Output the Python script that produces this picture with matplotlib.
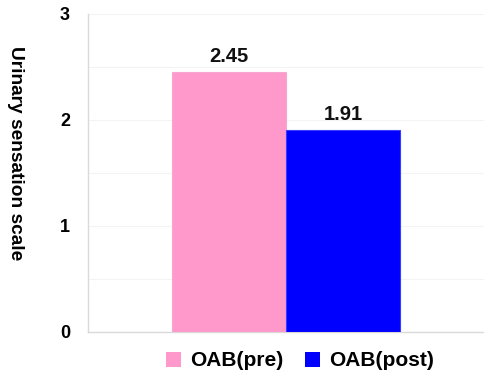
import matplotlib
matplotlib.use("Agg")
import matplotlib.pyplot as plt
from matplotlib.patches import Patch

plt.rcParams['font.family'] = ['Liberation Sans', 'DejaVu Sans']

groups = ["OAB(pre)", "OAB(post)"]
values = [2.45, 1.91]
colors = ["#FF99CC", "#0000FF"]
y_ticks = [0, 1, 2, 3]
y_label = "Urinary sensation scale"

fig = plt.figure(figsize=(4.85, 3.75), dpi=100)
ax = fig.add_axes([88 / 485, 1 - 332 / 375, 397 / 485, 318 / 375])

positions = [0, 1]
ax.bar(positions, values, width=1.0, color=colors, edgecolor=["#F7A8D0", "#3A3AFF"],
       linewidth=0.8, zorder=3)
for x, v in zip(positions, values):
    ax.text(x, v + 0.055, f"{v:.2f}", ha="center", va="bottom",
            fontsize=14.5, fontweight="bold", color="#111111", zorder=4)

ax.set_xlim(-1.23, 2.24)
ax.set_ylim(0, 3)
ax.set_yticks(y_ticks)
ax.set_yticklabels([str(t) for t in y_ticks], fontsize=13, fontweight="bold")
ax.set_yticks([0.5, 1.5, 2.5], minor=True)
ax.set_xticks([])
ax.tick_params(axis="y", which="both", length=0, pad=13)
ax.grid(axis="y", which="both", color="#F3F3F3", linewidth=0.8, zorder=0)

for side in ["top", "right"]:
    ax.spines[side].set_visible(False)
ax.spines["left"].set_color("#DADADA")
ax.spines["bottom"].set_color("#DADADA")
ax.spines["left"].set_linewidth(1.0)
ax.spines["bottom"].set_linewidth(1.0)

fig.text(15 / 485, 1 - 153 / 375, y_label, rotation=270, ha="center", va="center",
         fontsize=13.8, fontweight="bold")

handles = [Patch(facecolor=c, edgecolor="none") for c in colors]
fig.legend(handles, groups, loc="center", bbox_to_anchor=(300 / 485, 1 - 361 / 375),
           ncol=2, frameon=False, prop={"size": 15, "weight": "bold"},
           handlelength=0.72, handleheight=0.72, handletextpad=0.42, columnspacing=1.04,
           borderpad=0.0)

fig.savefig("out.png", dpi=100)
